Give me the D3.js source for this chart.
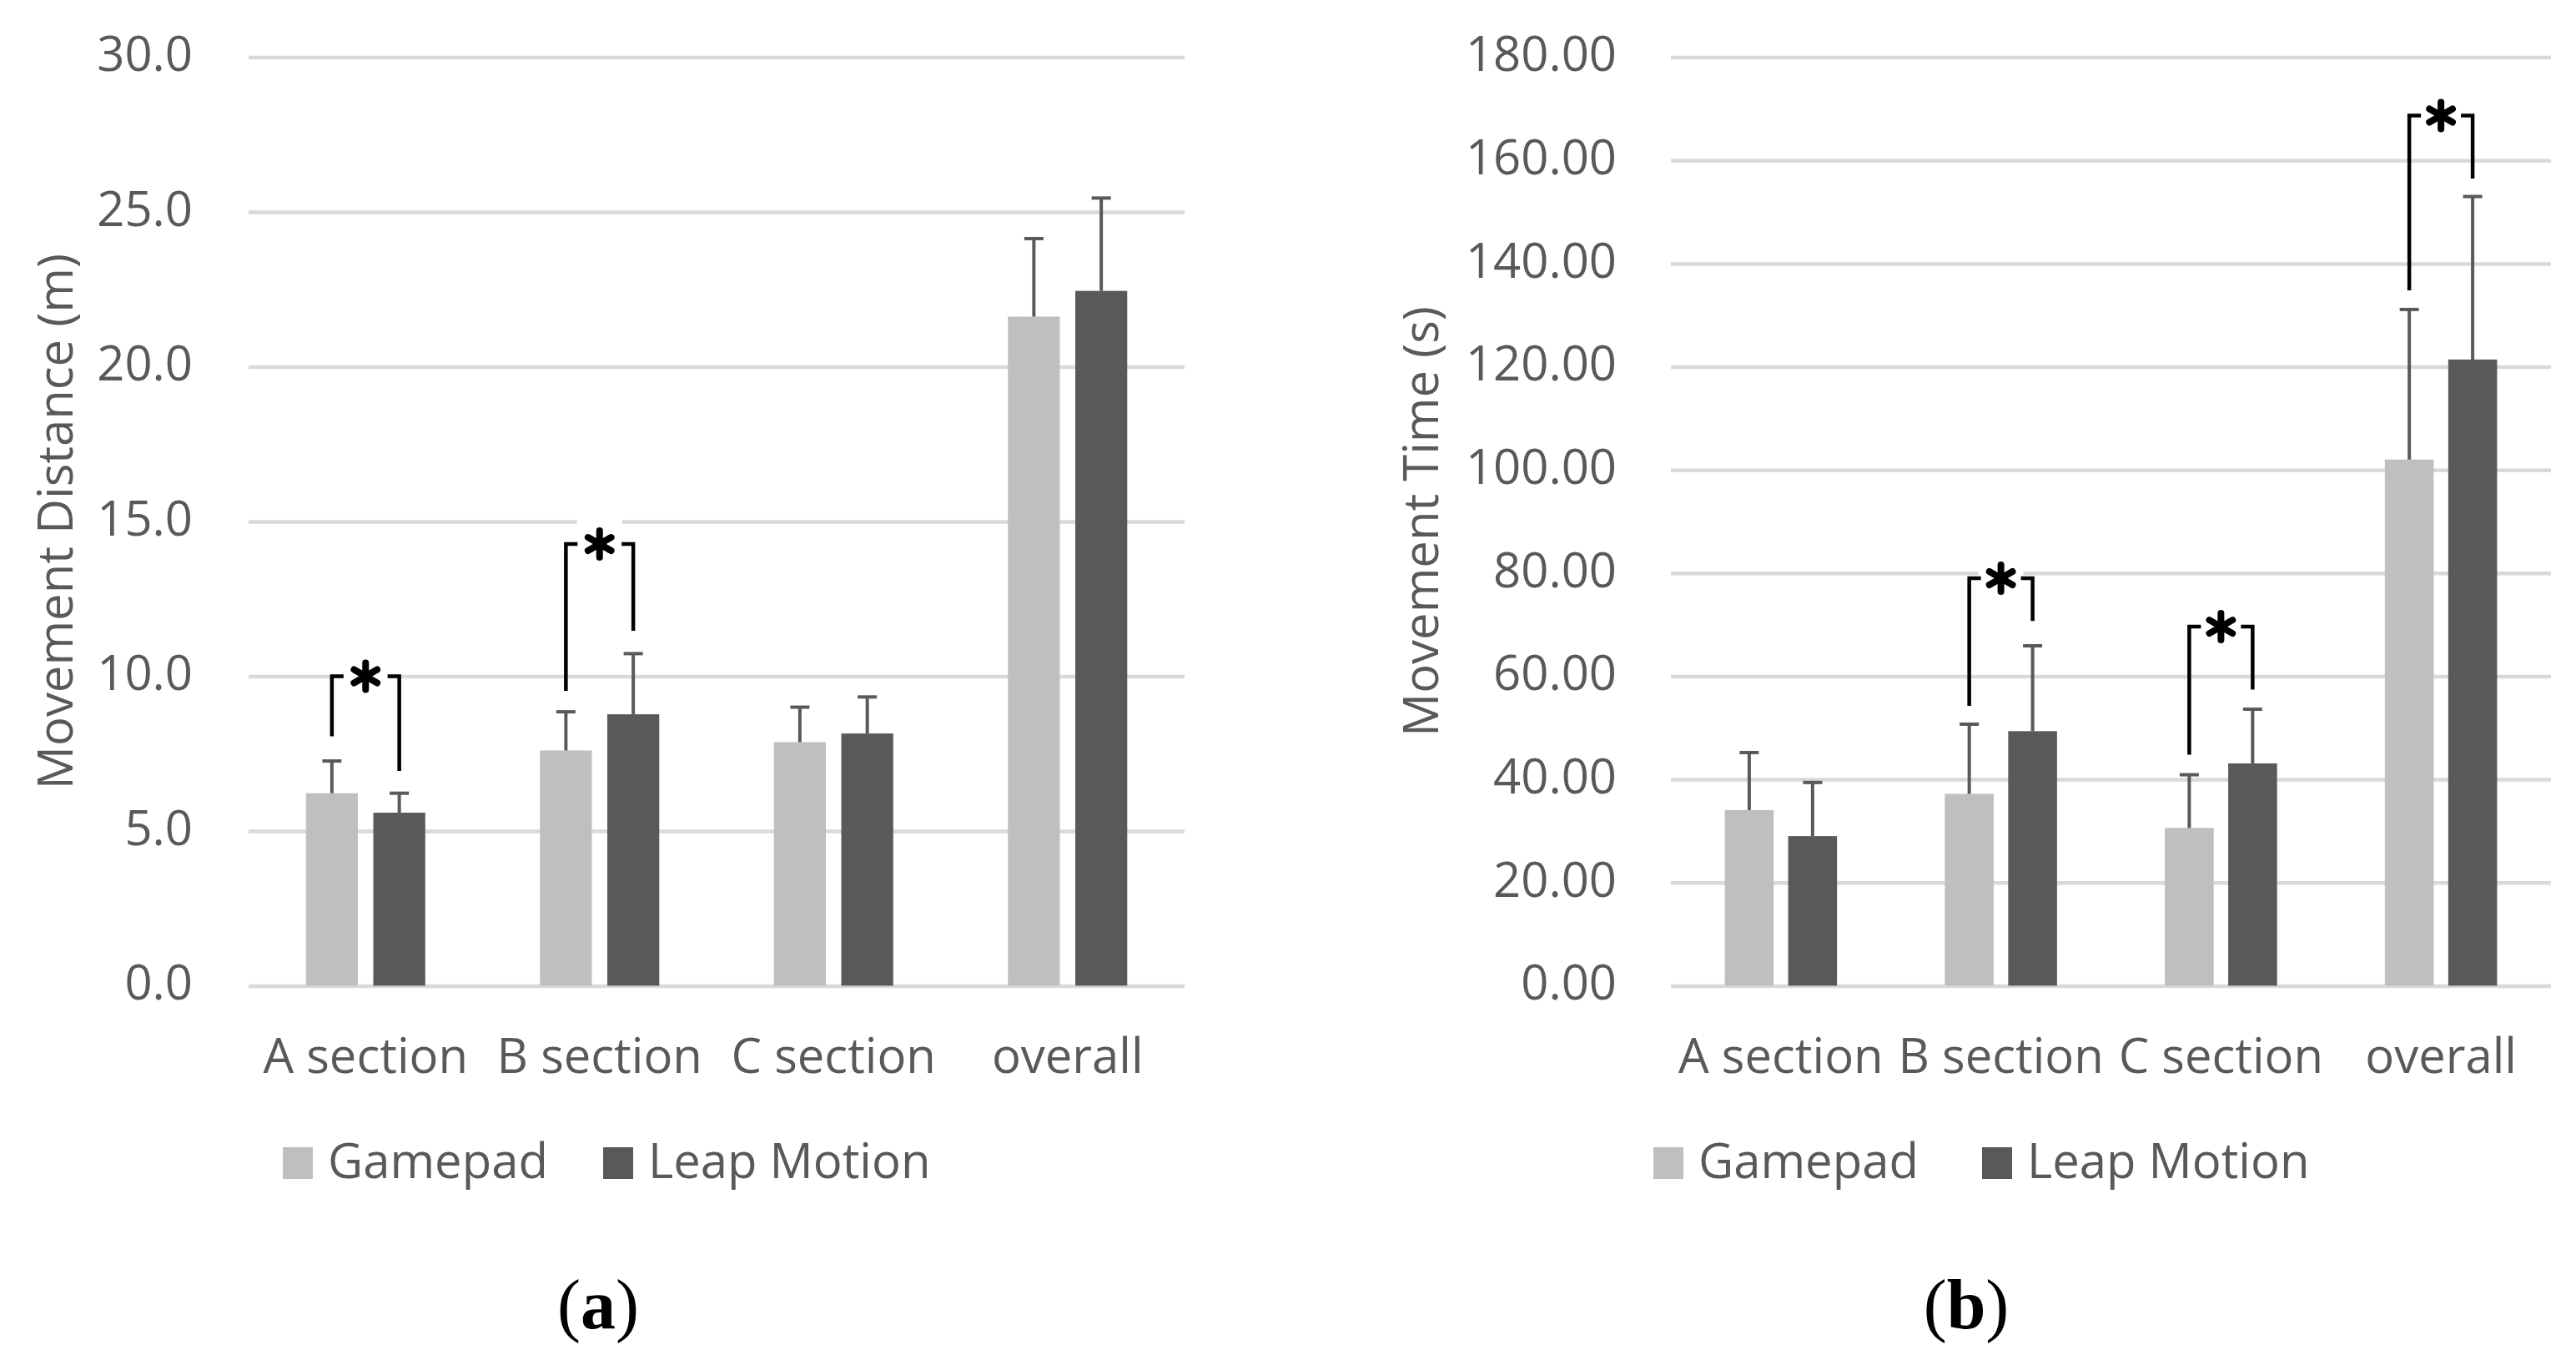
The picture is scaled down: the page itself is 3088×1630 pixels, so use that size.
<!DOCTYPE html>
<html>
<head>
<meta charset="utf-8">
<script src="https://cdn.jsdelivr.net/npm/d3@7"></script>
<style>
  body { margin: 0; background: #fff; }
  svg { display: block; }
  text { font-family: "Open Sans", "Noto Sans", sans-serif; }
  text.letter { font-family: "Liberation Serif", "DejaVu Serif", serif; }
</style>
</head>
<body>
<svg id="chart" width="3088" height="1630"></svg>
<script>
// --- data ---
const categories = ['A section', 'B section', 'C section', 'overall'];
const series = ['Gamepad', 'Leap Motion'];

const distGamepad   = [6.22, 7.60, 7.87, 21.62];
const distGamepadSD = [1.04, 1.25, 1.13, 2.52];
const distLeap      = [5.59, 8.77, 8.15, 22.45];
const distLeapSD    = [0.63, 1.96, 1.18, 3.00];
const distTicks     = [0, 5, 10, 15, 20, 25, 30];

const timeGamepad   = [34.05, 37.2, 30.6, 102.0];
const timeGamepadSD = [11.15, 13.5, 10.3, 29.1];
const timeLeap      = [29.0, 49.35, 43.1, 121.4];
const timeLeapSD    = [10.4, 16.55, 10.5, 31.6];
const timeTicks     = [0, 20, 40, 60, 80, 100, 120, 140, 160, 180];

// significance brackets: top of bracket, bottom of gamepad leg, bottom of leap leg
const distSig = [
  { cat: 'A section', top: 10.0, left: 8.06, right: 6.94 },
  { cat: 'B section', top: 14.27, left: 9.53, right: 11.47 }
];
const timeSig = [
  { cat: 'B section', top: 79.0, left: 54.25, right: 70.7 },
  { cat: 'C section', top: 69.6, left: 44.8, right: 57.4 },
  { cat: 'overall', top: 168.7, left: 134.8, right: 156.5 }
];

const COLORS = { 'Gamepad': '#bfbfbf', 'Leap Motion': '#595959' };
const TEXT = '#595959';
const GRID = '#d9d9d9';

const svg = d3.select('#chart');

function drawPanel(cfg) {
  const g = svg.append('g');
  const y = d3.scaleLinear().domain([0, cfg.max]).range([1181.4, 68.6]);
  const x0 = d3.scaleBand().domain(categories).range([cfg.left, cfg.right]);
  const band = x0.bandwidth();
  const bw = band * 0.222, gap = band * 0.066;
  const x1 = d3.scaleBand().domain(series)
    .range([-(bw + gap / 2), bw + gap / 2])
    .paddingInner(gap / (bw + gap));
  const cx = (cat, s) => x0(cat) + band / 2 + x1(s) + x1.bandwidth() / 2;

  // gridlines + tick labels
  const axis = g.append('g')
    .attr('transform', `translate(${cfg.left},0)`)
    .call(d3.axisLeft(y).tickValues(cfg.ticks).tickFormat(d3.format(cfg.fmt))
      .tickSize(-(cfg.right - cfg.left)).tickPadding(cfg.pad));
  axis.select('.domain').remove();
  axis.selectAll('.tick line').attr('stroke', GRID).attr('stroke-width', 4.5);
  axis.selectAll('.tick text').attr('fill', TEXT).attr('font-size', 58).attr('dy', '0.28em');

  const rows = categories.map((c, i) => ({
    cat: c,
    vals: [
      { s: 'Gamepad', v: cfg.a[i], sd: cfg.aSD[i] },
      { s: 'Leap Motion', v: cfg.b[i], sd: cfg.bSD[i] }
    ]
  }));

  const grp = g.selectAll('.grp').data(rows).join('g').attr('class', 'grp');
  grp.selectAll('rect').data(d => d.vals.map(v => ({ ...v, cat: d.cat })))
    .join('rect')
    .attr('x', d => x0(d.cat) + band / 2 + x1(d.s))
    .attr('width', x1.bandwidth())
    .attr('y', d => y(d.v))
    .attr('height', d => y(0) - y(d.v))
    .attr('fill', d => COLORS[d.s]);

  // upper error bars
  const eb = grp.selectAll('.err').data(d => d.vals.map(v => ({ ...v, cat: d.cat })))
    .join('g').attr('class', 'err')
    .attr('stroke', '#595959').attr('stroke-width', 4);
  eb.append('line')
    .attr('x1', d => cx(d.cat, d.s)).attr('x2', d => cx(d.cat, d.s))
    .attr('y1', d => y(d.v)).attr('y2', d => y(d.v + d.sd));
  eb.append('line')
    .attr('x1', d => cx(d.cat, d.s) - 11.5).attr('x2', d => cx(d.cat, d.s) + 11.5)
    .attr('y1', d => y(d.v + d.sd)).attr('y2', d => y(d.v + d.sd));

  // significance brackets
  const sig = g.selectAll('.sig').data(cfg.sig).join('g').attr('class', 'sig');
  sig.each(function (d) {
    const s = d3.select(this);
    const xl = cx(d.cat, 'Gamepad'), xr = cx(d.cat, 'Leap Motion');
    const xm = (xl + xr) / 2, yt = y(d.top);
    s.append('rect').attr('x', xm - 27).attr('y', yt - 32).attr('width', 54).attr('height', 52)
      .attr('fill', '#fff');
    s.append('path')
      .attr('d', `M${xl},${y(d.left)}V${yt}H${xl + 14}M${xr - 14},${yt}H${xr}V${y(d.right)}`)
      .attr('fill', 'none').attr('stroke', '#000').attr('stroke-width', 4.5);
    [90, 30, -30].forEach(a => {
      const r = a * Math.PI / 180, L = 16;
      s.append('line')
        .attr('x1', xm - L * Math.cos(r)).attr('y1', yt - L * Math.sin(r))
        .attr('x2', xm + L * Math.cos(r)).attr('y2', yt + L * Math.sin(r))
        .attr('stroke', '#000').attr('stroke-width', 8).attr('stroke-linecap', 'round');
    });
  });

  // category labels
  g.selectAll('.cat').data(categories).join('text')
    .attr('class', 'cat')
    .attr('x', d => x0(d) + band / 2).attr('y', 1286)
    .attr('text-anchor', 'middle').attr('font-size', 58).attr('fill', TEXT)
    .text(d => d);

  // y-axis title
  g.append('text')
    .attr('transform', `translate(${cfg.titleX},625) rotate(-90)`)
    .attr('text-anchor', 'middle').attr('dominant-baseline', 'central')
    .attr('font-size', 58).attr('fill', TEXT)
    .text(cfg.title);

  // legend
  const leg = g.selectAll('.leg').data(series).join('g').attr('class', 'leg')
    .attr('transform', (d, i) => `translate(${cfg.legX[i]},0)`);
  leg.append('rect').attr('x', 0).attr('y', 1375).attr('width', 36).attr('height', 38)
    .attr('fill', d => COLORS[d]);
  leg.append('text').attr('x', 54).attr('y', 1412)
    .attr('font-size', 58).attr('fill', TEXT).text(d => d);

  // panel letter
  const lab = g.append('text')
    .attr('class', 'letter')
    .attr('x', cfg.letterX).attr('y', 1592)
    .attr('text-anchor', 'middle')
    .attr('font-size', 84).attr('fill', '#000');
  lab.append('tspan').text('(');
  lab.append('tspan').attr('font-weight', 'bold').text(cfg.letter);
  lab.append('tspan').text(')');
}

drawPanel({
  left: 298, right: 1420, max: 30, ticks: distTicks, fmt: '.1f', pad: 67,
  a: distGamepad, aSD: distGamepadSD, b: distLeap, bSD: distLeapSD,
  sig: distSig, title: 'Movement Distance (m)', titleX: 64,
  legX: [339, 723], letter: 'a', letterX: 717
});

drawPanel({
  left: 2003, right: 3058, max: 180, ticks: timeTicks, fmt: '.2f', pad: 65,
  a: timeGamepad, aSD: timeGamepadSD, b: timeLeap, bSD: timeLeapSD,
  sig: timeSig, title: 'Movement Time (s)', titleX: 1701,
  legX: [1982, 2376], letter: 'b', letterX: 2357
});
</script>
</body>
</html>
